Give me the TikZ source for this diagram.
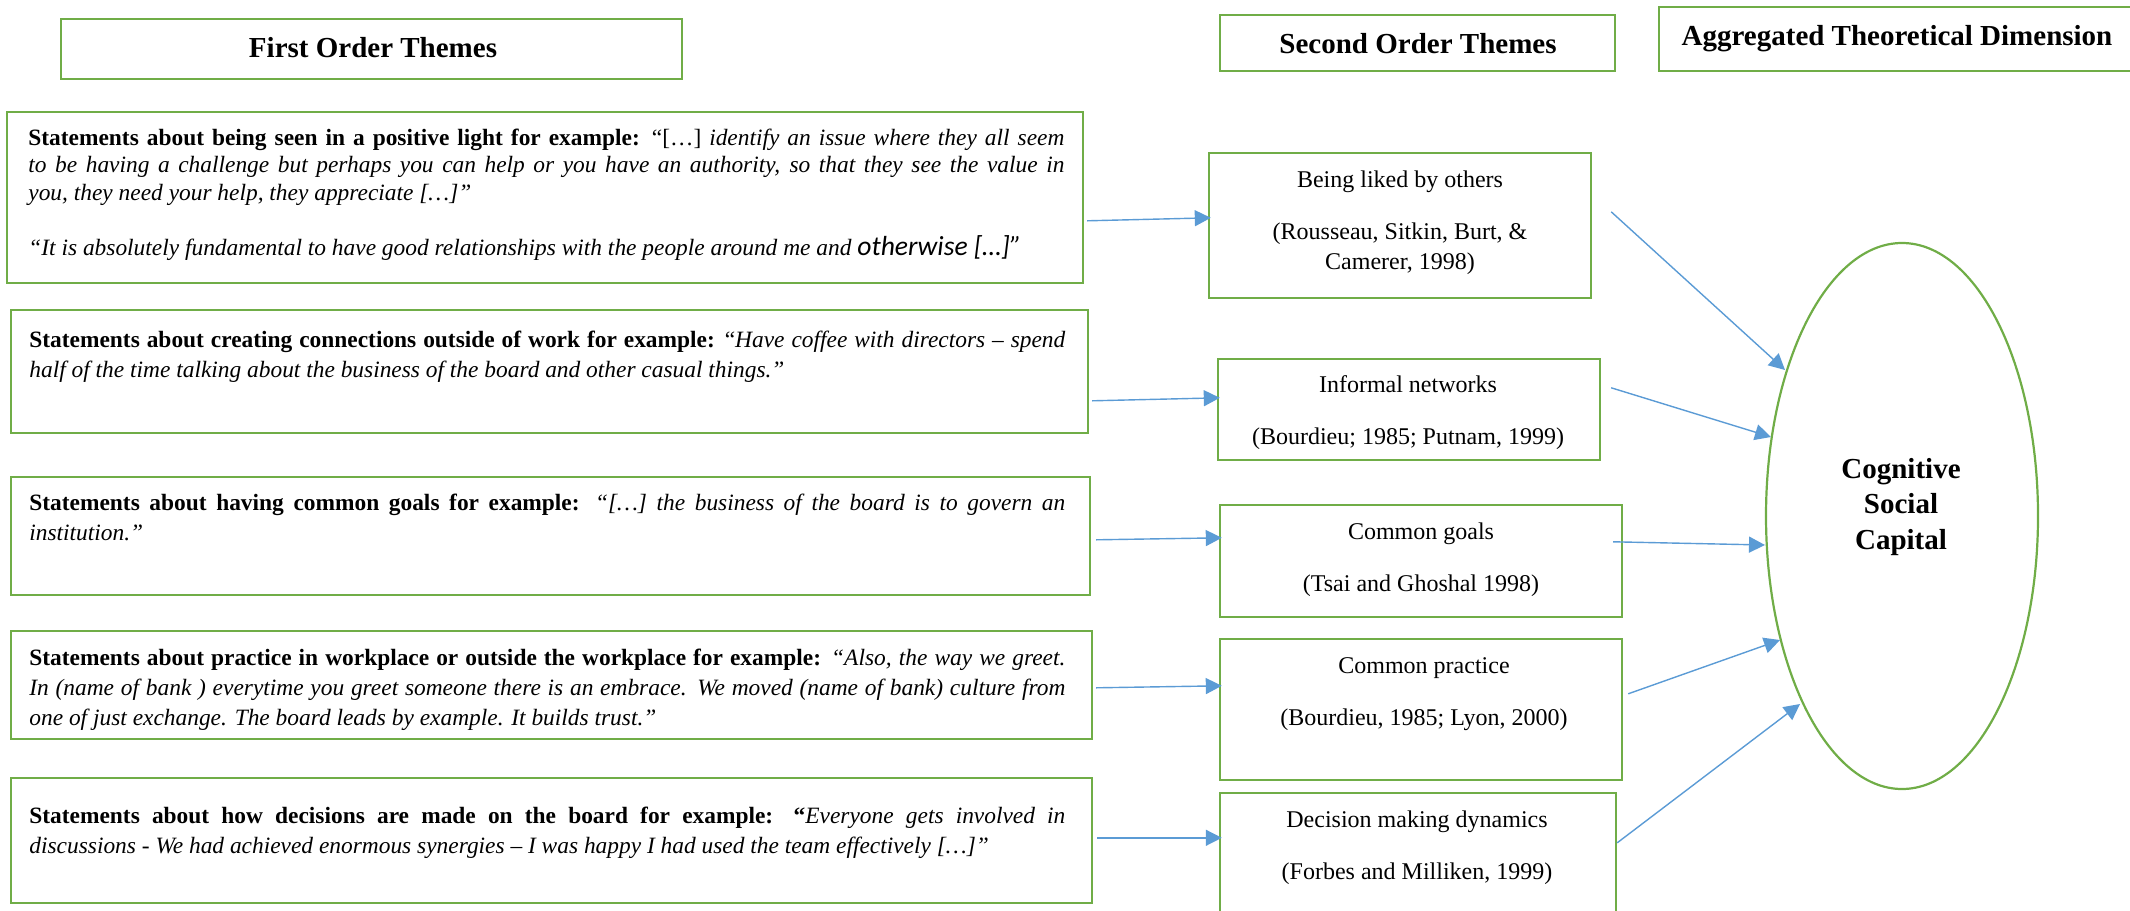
\documentclass[tikz,border=0pt]{standalone}
\usepackage{fontspec}
\setmainfont{Liberation Serif}
\newfontfamily\carlito{Carlito}
\usetikzlibrary{arrows.meta,shapes.geometric,fit,calc}
\definecolor{gboxc}{HTML}{70AD47}
\definecolor{arrc}{HTML}{5B9BD5}
\newcommand\nohyphset{\hyphenpenalty=10000\relax\tolerance=9999\relax\emergencystretch=0pt\relax}
\begin{document}
\begin{tikzpicture}[x=0.5pt,y=-0.5pt,
 gbox/.style={draw=gboxc, line width=1.2pt, inner sep=0pt, rectangle},
 ttl/.style={inner sep=0pt, anchor=base, font=\fontsize{14.5}{17}\selectfont\bfseries},
 stext/.style={text width=518pt, align=justify, inner sep=0pt, anchor=base west, font=\fontsize{11.7}{15}\selectfont\nohyphset},
 btext/.style={align=center, inner sep=0pt, font=\fontsize{12}{15}\selectfont},
 arr/.style={draw=arrc, line width=0.7pt, -{Triangle[length=8pt,width=8pt]}}]
\useasboundingbox (0,0) rectangle (2130,910);
\clip (0,0) rectangle (2130,910);

% title boxes
\node[gbox, fit={(61,19) (682,79)}] (T1) {};
\node[gbox, fit={(1220,15) (1615,71)}] (T2) {};
\node[gbox, fit={(1659,7) (2136,71)}] (T3) {};
\node[ttl] (T1t) at (373,57) {First Order Themes};
\node[ttl] (T2t) at (1418,53) {Second Order Themes};
\node[ttl] (T3t) at (1897,45) {Aggregated Theoretical Dimension};

% first order statement boxes
\node[gbox, fit={(7,112) (1083,283)}] (S1) {};
\node[gbox, fit={(11,310) (1088,433)}] (S2) {};
\node[gbox, fit={(11,477) (1090,595)}] (S3) {};
\node[gbox, fit={(11,631) (1092,739)}] (S4) {};
\node[gbox, fit={(11,778) (1092,903)}] (S5) {};

\node[stext, font=\fontsize{11.7}{13.85}\selectfont\nohyphset] (S1t) at (28,145) {\textbf{Statements about being seen in a positive light for example:} “[…] \textit{identify an issue where they all seem}\linebreak
\textit{to be having a challenge but perhaps you can help or you have an authority, so that they see the value in}\linebreak
\textit{you, they need your help, they appreciate […]”}\par\vspace{13.85pt}
\textit{“It is absolutely fundamental to have good relationships with the people around me and} {\carlito\itshape\fontsize{13.8}{13.85}\selectfont otherwise […]”}};

\node[stext] (S2t) at (29,347) {\textbf{Statements about creating connections outside of work for example:} “\textit{Have coffee with directors – spend}\linebreak
\textit{half of the time talking about the business of the board and other casual things.”}};

\node[stext] (S3t) at (29,510) {\textbf{Statements about having common goals for example:} \textit{“[…] the business of the board is to govern an}\linebreak
\textit{institution.”}};

\node[stext] (S4t) at (29,665) {\textbf{Statements about practice in workplace or outside the workplace for example:} \textit{“Also, the way we greet.}\linebreak
\textit{In (name of bank ) everytime you greet someone there is an embrace. We moved (name of bank) culture from}\linebreak
\textit{one of just exchange. The board leads by example. It builds trust.”}};

\node[stext] (S5t) at (29,823) {\textbf{Statements about how decisions are made on the board for example: “}\textit{Everyone gets involved in}\linebreak
\textit{discussions - We had achieved enormous synergies – I was happy I had used the team effectively […]”}};

% second order boxes
\node[gbox, fit={(1209,153) (1591,298)}] (B1) {};
\node[gbox, fit={(1218,359) (1600,460)}] (B2) {};
\node[gbox, fit={(1220,505) (1622,617)}] (B3) {};
\node[gbox, fit={(1220,639) (1622,780)}] (B4) {};
\node[gbox, fit={(1220,793) (1616,914)}] (B5) {};

\node[btext] (B1t) at (1400,223) {Being liked by others\\[11pt](Rousseau, Sitkin, Burt, \&\\Camerer, 1998)};
\node[btext] (B2t) at (1408,413) {Informal networks\\[11pt](Bourdieu; 1985; Putnam, 1999)};
\node[btext] (B3t) at (1421,560) {Common goals\\[11pt](Tsai and Ghoshal 1998)};
\node[btext] (B4t) at (1424,694) {Common practice\\[11pt](Bourdieu, 1985; Lyon, 2000)};
\node[btext] (B5t) at (1417,848) {Decision making dynamics\\[11pt](Forbes and Milliken, 1999)};

% aggregated dimension
\node[draw=gboxc, line width=1.1pt, ellipse, minimum width=136pt, minimum height=273pt, inner sep=0pt] (E) at (1902,516) {};
\node[align=center, inner sep=0pt, font=\fontsize{14.5}{17.75}\selectfont\bfseries] (Et) at (1901,507) {Cognitive\\Social\\Capital};

% arrows first -> second order
\draw[arr] ($(S1.north east)+(3,110)$) -- ($(B1.north west)+(3,66)$);
\draw[arr] ($(S2.north east)+(3,92)$) -- ($(B2.north west)+(3,40)$);
\draw[arr] ($(S3.north east)+(5,64)$) -- ($(B3.north west)+(3,34)$);
\draw[arr] ($(S4.north east)+(3,58)$) -- ($(B4.north west)+(3,48)$);
\draw[arr] ($(S5.north east)+(4,61)$) -- ($(B5.north west)+(3,46)$);

% arrows second order -> dimension
\draw[arr] ($(B1.north east)+(19,60)$) -- ($(E.center)+(-117,-146)$);
\draw[arr] ($(B2.north east)+(10,30)$) -- ($(E.center)+(-131,-79)$);
\draw[arr] ($(B3.north east)+(-10,38)$) -- ($(E.center)+(-137,29)$);
\draw[arr] ($(B4.north east)+(5,56)$) -- ($(E.center)+(-122,124)$);
\draw[arr] ($(B5.north east)+(0,51)$) -- ($(E.center)+(-102,188)$);
\end{tikzpicture}
\end{document}
